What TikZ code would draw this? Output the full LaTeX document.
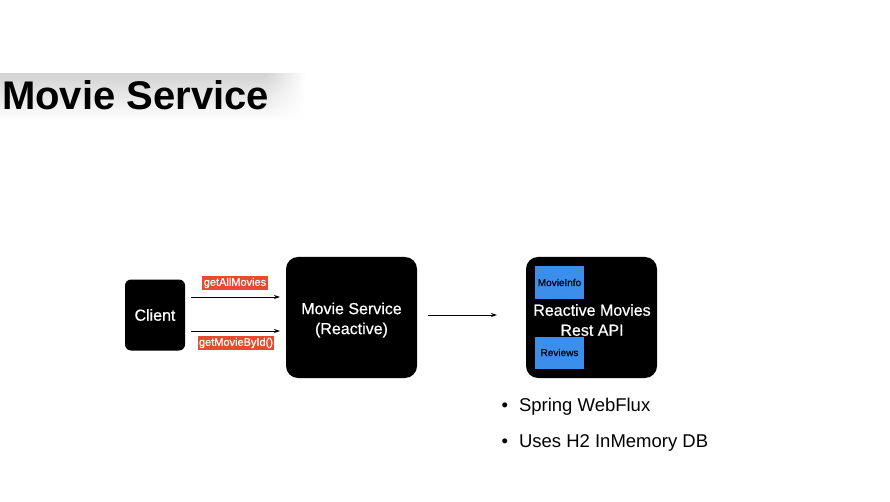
\documentclass[tikz,border=0pt]{standalone}
\usepackage{fontspec}
\setmainfont{Liberation Sans}
\newfontfamily\heavysans[FakeBold=0.6]{Liberation Sans}
\usetikzlibrary{arrows.meta,fadings}
\definecolor{lblred}{HTML}{E8492F}
\definecolor{boxblue}{HTML}{3B8FEA}
\begin{document}
\begin{tikzpicture}[x=1pt,y=-1pt,
  blackbox/.style={fill=black,draw=none,text=white,align=center,font=\heavysans\fontsize{16}{20}\selectfont},
  lbl/.style={fill=lblred,text=white,inner sep=1.5pt,font=\heavysans\fontsize{11}{13}\selectfont},
  bluebox/.style={fill=boxblue,draw=none,text=black,font=\heavysans\fontsize{10}{12}\selectfont,minimum width=49pt,minimum height=32pt,inner sep=0pt},
  conn/.style={line width=0.9pt,-{Stealth[length=6pt,width=4pt]}},
  bul/.style={anchor=west,font=\fontsize{18.5}{22}\selectfont}]
\useasboundingbox (0,0) rectangle (890,502);
\fill[white] (0,0) rectangle (890,502);
% title brush band
\shade[top color=black!17,bottom color=white] (0,74) rectangle (265,120);
\shade[top color=black!17,bottom color=white,path fading=east] (265,74) rectangle (305,120);
\node[anchor=base west,inner sep=0pt,font=\fontsize{40}{44}\selectfont\bfseries] (title) at (2,110) {Movie Service};
% boxes
\node[blackbox,rounded corners=6pt,minimum width=60pt,minimum height=71pt] (client) at (155,315) {Client};
\node[blackbox,rounded corners=12pt,minimum width=131pt,minimum height=121pt] (ms) at (351.5,317.5) {};
\node[text=white,align=center,font=\heavysans\fontsize{16}{20}\selectfont] (mstext) at (351.5,320) {Movie Service\\(Reactive)};
\node[blackbox,rounded corners=12pt,minimum width=131pt,minimum height=121pt] (rm) at (591.5,317.5) {};
\node[text=white,align=center,font=\heavysans\fontsize{16}{20}\selectfont] (rmtext) at (592,320) {Reactive Movies\\Rest API};
\node[bluebox] (mi) at (559.5,282.5) {MovieInfo};
\node[bluebox] (rv) at (559.5,352.5) {Reviews};
% connectors
\coordinate (a1s) at (191,297);
\coordinate (a1e) at (280,297);
\coordinate (a2s) at (191,331);
\coordinate (a2e) at (280,331);
\coordinate (a3s) at (428,315);
\coordinate (a3e) at (497,315);
\draw[conn] (a1s) -- (a1e);
\draw[conn] (a2s) -- (a2e);
\draw[conn] (a3s) -- (a3e);
\node[lbl] (l1) at (235,283) {getAllMovies};
\node[lbl] (l2) at (236,343) {getMovieById()};
% bullets
\node[bul] (b1) at (498,407) {•\hspace{11pt}Spring WebFlux};
\node[bul] (b2) at (498,443) {•\hspace{11pt}Uses H2 InMemory DB};
\end{tikzpicture}
\end{document}
